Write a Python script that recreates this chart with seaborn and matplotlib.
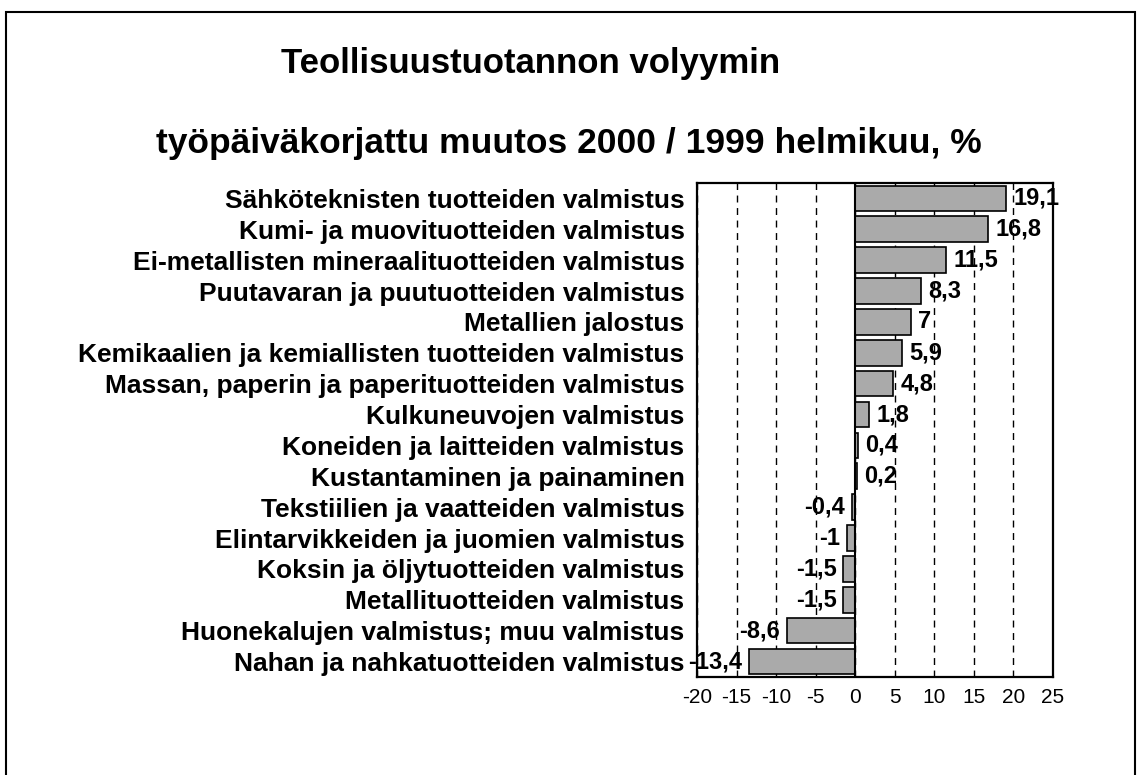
import numpy as np
import pandas as pd
import matplotlib
matplotlib.use('Agg')
import matplotlib.pyplot as plt
import seaborn as sns
from matplotlib.patches import Rectangle

# Data
categories = [
    'Sähköteknisten tuotteiden valmistus',
    'Kumi- ja muovituotteiden valmistus',
    'Ei-metallisten mineraalituotteiden valmistus',
    'Puutavaran ja puutuotteiden valmistus',
    'Metallien jalostus',
    'Kemikaalien ja kemiallisten tuotteiden valmistus',
    'Massan, paperin ja paperituotteiden valmistus',
    'Kulkuneuvojen valmistus',
    'Koneiden ja laitteiden valmistus',
    'Kustantaminen ja painaminen',
    'Tekstiilien ja vaatteiden valmistus',
    'Elintarvikkeiden ja juomien valmistus',
    'Koksin ja öljytuotteiden valmistus',
    'Metallituotteiden valmistus',
    'Huonekalujen valmistus; muu valmistus',
    'Nahan ja nahkatuotteiden valmistus',
]
values = [19.1, 16.8, 11.5, 8.3, 7, 5.9, 4.8, 1.8, 0.4, 0.2,
          -0.4, -1, -1.5, -1.5, -8.6, -13.4]
x_ticks = [-20, -15, -10, -5, 0, 5, 10, 15, 20, 25]

title1 = 'Teollisuustuotannon volyymin'
title2 = 'työpäiväkorjattu muutos 2000 / 1999 helmikuu, %'

df = pd.DataFrame({'toimiala': categories, 'muutos': values})

sns.set_style('white')
plt.rcParams['font.family'] = ['Liberation Sans', 'DejaVu Sans']
plt.rcParams['text.color'] = 'black'
plt.rcParams['xtick.color'] = 'black'
plt.rcParams['ytick.color'] = 'black'

fig = plt.figure(figsize=(11.38, 7.75), dpi=100)
ax = fig.add_axes([0.6125, 0.1265, 0.3128, 0.6374])

sns.barplot(data=df, x='muutos', y='toimiala', orient='h', color='#aaaaaa',
            edgecolor='black', linewidth=1.2, width=0.83, saturation=1, ax=ax)

# value labels with a decimal comma
labels = [str(v).replace('.', ',') for v in values]
ax.bar_label(ax.containers[0], labels=labels, padding=5,
             fontsize=17, fontweight='bold', color='black')

ax.set_xlim(-20, 25)
ax.set_xticks(x_ticks)
ax.set_xticklabels([str(t) for t in x_ticks], fontsize=15)
ax.tick_params(axis='x', length=0, pad=8)
ax.tick_params(axis='y', length=0, pad=9)
for lbl in ax.get_yticklabels():
    lbl.set_fontsize(19)
    lbl.set_fontweight('bold')
ax.set_xlabel('')
ax.set_ylabel('')

# dashed vertical gridlines, solid zero line
ax.set_axisbelow(True)
ax.xaxis.grid(True, color='black', linestyle=(0, (5, 4)), linewidth=1)
ax.axvline(0, color='black', linewidth=1.5, zorder=1)
for s in ax.spines.values():
    s.set_color('black')
    s.set_linewidth(1.6)
    s.set_visible(True)

fig.text(0.466, 0.918, title1, ha='center', va='center',
         fontsize=25, fontweight='bold')
fig.text(0.5, 0.815, title2, ha='center', va='center',
         fontsize=25.5, fontweight='bold')

# outer frame (bottom edge cut off as in the original)
fig.patches.append(Rectangle((0.005, -0.05), 0.992, 1.0345, transform=fig.transFigure,
                             fill=False, edgecolor='black', linewidth=1.5))

fig.savefig('out.png', dpi=100)
